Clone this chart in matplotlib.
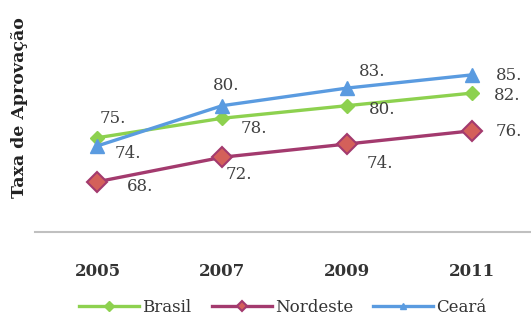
#!/usr/bin/env python3

import matplotlib
matplotlib.use('Agg')
import matplotlib.pyplot as plt
import numpy as np

anos     = ['2005', '2007', '2009', '2011']
brasil   = [75.5, 78.6, 80.6, 82.6]
nordeste = [68.5, 72.4, 74.5, 76.6]
ceara    = [74.2, 80.6, 83.4, 85.5]

# label offsets in pixels (dx, dy) for each point
off_brasil   = [(15, 19), (32, -10), (35, -4), (35, -2)]
off_nordeste = [(43, -5), (17, -17), (33, -20), (37, -1)]
off_ceara    = [(30, -8), (4, 20), (25, 17), (37, -1)]

plt.rcParams['font.family'] = ['DejaVu Serif']

W, H = 531, 323
fig = plt.figure(figsize=(W/100, H/100), dpi=100)
# axes placed in pixel units, right edge runs off the figure
left, right, bottom, top = 35, 534.5, 232, 12
ax = fig.add_axes([left/W, (H-bottom)/H, (right-left)/W, (bottom-top)/H])
ax.set_xlim(-0.5, 3.5)
ax.set_ylim(60.5, 95.5)

x = np.arange(len(anos))
series = [
  ('Brasil',   brasil,   off_brasil,   dict(color='#8dd14f', marker='D', markersize=7,
                                             markerfacecolor='#8dd14f', markeredgecolor='#8dd14f')),
  ('Nordeste', nordeste, off_nordeste, dict(color='#a33a6e', marker='D', markersize=10,
                                             markerfacecolor='#d4605a', markeredgecolor='#a33a6e',
                                             markeredgewidth=1.5)),
  ('Ceará',    ceara,    off_ceara,    dict(color='#5a9be0', marker='^', markersize=10,
                                             markerfacecolor='#5a9be0', markeredgecolor='#5a9be0')),
]

for name, vals, offs, style in series:
  ax.plot(x, vals, linewidth=2.4, label=name, clip_on=False, zorder=3, **style)
  for xi, v, (dx, dy) in zip(x, vals, offs):
    ax.annotate('%d.' % int(v), (xi, v), xytext=(dx, dy), textcoords='offset pixels',
                ha='center', va='center', fontsize=12, color='#404040',
                annotation_clip=False)

for s in ['top', 'right', 'left']:
  ax.spines[s].set_visible(False)
ax.spines['bottom'].set_color('#c0c0c0')
ax.spines['bottom'].set_linewidth(1.5)

ax.set_yticks([])
ax.set_xticks(x)
ax.set_xticklabels(anos, fontsize=12, fontweight='bold', color='#333333')
ax.tick_params(axis='x', length=0, pad=22)

fig.text(20/W, 1 - 108/H, 'Taxa de Aprovação', rotation=90, ha='center', va='center',
         fontsize=12.5, fontweight='bold', color='#222222')

leg = fig.legend(loc='center', bbox_to_anchor=(283/W, 1 - 307/H), ncol=3, frameon=False,
                 fontsize=12, handlelength=3.6, columnspacing=1.2, handletextpad=0.2)
for h in leg.legend_handles:
  h.set_markersize(5)
for t in leg.get_texts():
  t.set_color('#333333')

fig.savefig('out.png', dpi=100)
